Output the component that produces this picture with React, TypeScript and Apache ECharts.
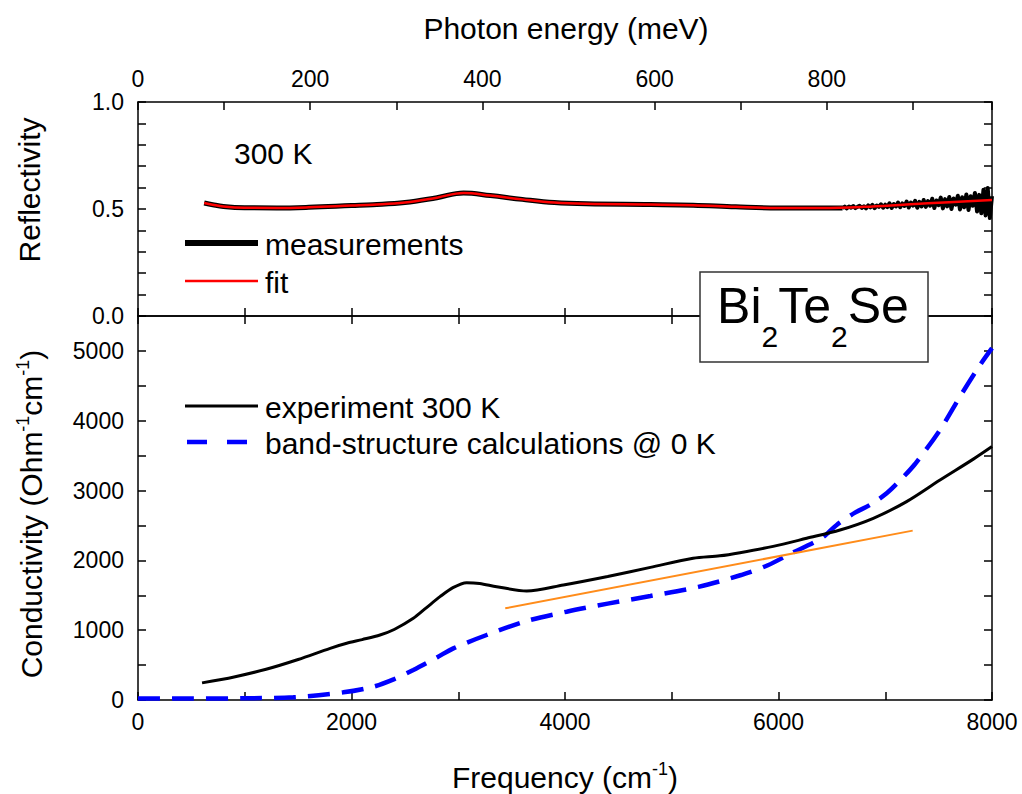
import React, { useEffect, useRef } from 'react';
import * as echarts from 'echarts';

// ---------- data ----------
const reflFitFreq = [620, 700, 800, 1000, 1300, 1600, 2000, 2200, 2500, 2800, 3050, 3300, 3600, 3900, 4200, 4800, 5200, 5600, 6000, 6400, 6800, 7200, 7600, 8000];
const reflFitValues = [0.528, 0.520, 0.512, 0.506, 0.505, 0.508, 0.516, 0.520, 0.530, 0.553, 0.575, 0.563, 0.545, 0.530, 0.524, 0.521, 0.518, 0.510, 0.505, 0.505, 0.510, 0.521, 0.532, 0.542];

// smooth part of the measured reflectivity
const reflMeasFreq = [620, 700, 800, 1000, 1300, 1600, 2000, 2200, 2500, 2800, 3050, 3300, 3600, 3900, 4200, 4800, 5200, 5600, 6000, 6400, 6600];
const reflMeasValues = [0.528, 0.520, 0.512, 0.506, 0.505, 0.508, 0.516, 0.520, 0.530, 0.553, 0.575, 0.563, 0.545, 0.530, 0.524, 0.521, 0.518, 0.510, 0.505, 0.505, 0.505];
// noisy high-frequency part of the measured reflectivity
const reflNoiseFreq = [6600, 6620, 6640, 6660, 6680, 6700, 6720, 6740, 6760, 6780, 6800, 6820, 6840, 6860, 6880, 6900, 6920, 6940, 6960, 6980,
  7000, 7020, 7040, 7060, 7080, 7100, 7120, 7140, 7160, 7180, 7200, 7220, 7240, 7260, 7280, 7300, 7320, 7340, 7360, 7380,
  7400, 7420, 7440, 7460, 7480, 7500, 7520, 7540, 7560, 7580, 7600, 7620, 7640, 7660, 7680, 7700, 7720, 7740, 7760, 7780,
  7800, 7820, 7840, 7860, 7880, 7900, 7920, 7940, 7960, 7980, 8000];
const reflNoiseValues = [0.505, 0.511, 0.503, 0.512, 0.506, 0.514, 0.504, 0.510, 0.515, 0.505, 0.513, 0.503, 0.517, 0.508, 0.519, 0.504, 0.516, 0.510, 0.522, 0.506,
  0.520, 0.509, 0.527, 0.505, 0.523, 0.512, 0.530, 0.508, 0.526, 0.514, 0.535, 0.507, 0.530, 0.516, 0.538, 0.506, 0.533, 0.512, 0.542, 0.510,
  0.537, 0.515, 0.548, 0.505, 0.540, 0.518, 0.553, 0.503, 0.546, 0.512, 0.556, 0.500, 0.549, 0.520, 0.562, 0.498, 0.555, 0.508, 0.568, 0.495,
  0.560, 0.515, 0.575, 0.488, 0.566, 0.480, 0.590, 0.470, 0.598, 0.458, 0.560];

const expFreq = [600, 900, 1200, 1500, 1800, 1955, 2100, 2267, 2400, 2579, 2700, 2829, 2950, 3079, 3200, 3360, 3641, 3985, 4400, 4800, 5200, 5450, 5639, 5950, 6264, 6576, 6888, 7200, 7513, 7825, 8000];
const expValues = [245, 330, 440, 580, 740, 812, 865, 931, 1010, 1170, 1320, 1480, 1610, 1681, 1670, 1623, 1561, 1648, 1770, 1900, 2030, 2065, 2110, 2200, 2316, 2435, 2603, 2841, 3150, 3450, 3630];

const calcFreq = [0, 500, 1000, 1455, 1924, 2205, 2400, 2579, 2800, 2954, 3266, 3641, 4016, 4400, 4800, 5250, 5650, 5900, 6108, 6404, 6545, 6717, 6857, 7013, 7154, 7279, 7513, 7700, 7888, 8000];
const calcValues = [20, 20, 25, 38, 110, 191, 300, 430, 610, 740, 931, 1132, 1265, 1380, 1490, 1620, 1790, 1930, 2092, 2318, 2507, 2684, 2794, 2961, 3170, 3380, 3868, 4345, 4799, 5040];

const trendFreq = [3440, 7257];
const trendValues = [1313, 2426];

const freqLabels = [0, 2000, 4000, 6000, 8000];
const energyLabels = [0, 200, 400, 600, 800];
const reflLabels = [0, 0.5, 1.0];
const condLabels = [0, 1000, 2000, 3000, 4000, 5000];

const CM_TO_MEV = 0.123984;
const FREQ_MAX = 8000;
const MEV_MAX = FREQ_MAX * CM_TO_MEV;

// ---------- styling ----------
const FONT = "'Liberation Sans', Arial, Helvetica, sans-serif";
const pairs = (xs: number[], ys: number[]) => xs.map((x, i) => [x, ys[i]]);
const has = (list: number[], v: number) => list.some((l) => Math.abs(l - v) < 1e-6);

const axisLine = { show: true, onZero: false, lineStyle: { color: '#000', width: 1.5 } };
const axisTick = { show: true, inside: true, length: 8, lineStyle: { color: '#000', width: 1.5 } };
const labelBase = { color: '#000', fontSize: 23, fontFamily: FONT };
const noSplit = { show: false };
const supRich = {
  a: { fontSize: 30, fontFamily: FONT, lineHeight: 34, fill: '#000' },
  s: { fontSize: 18, fontFamily: FONT, lineHeight: 22, verticalAlign: 'top', fill: '#000' },
};

export default function App() {
  const ref = useRef<HTMLDivElement>(null);
  useEffect(() => {
    const chart = echarts.init(ref.current!, null, { renderer: 'svg' });
    const option: any = {
      animation: false,
      backgroundColor: '#fff',
      grid: [
        { left: 138, right: 30, top: 102, height: 214 },
        { left: 138, right: 30, top: 316, height: 384 },
      ],
      xAxis: [
        { gridIndex: 0, type: 'value', position: 'bottom', min: 0, max: FREQ_MAX, interval: 1000, axisLine, axisTick, axisLabel: { show: false }, splitLine: noSplit },
        {
          gridIndex: 0, type: 'value', position: 'top', min: 0, max: MEV_MAX, interval: 100, axisLine, axisTick,
          axisLabel: { ...labelBase, margin: 12, formatter: (v: number) => (has(energyLabels, v) ? String(Math.round(v)) : '') },
          splitLine: noSplit,
        },
        {
          gridIndex: 1, type: 'value', position: 'bottom', min: 0, max: FREQ_MAX, interval: 1000, axisLine, axisTick,
          axisLabel: { ...labelBase, margin: 10, formatter: (v: number) => (has(freqLabels, v) ? String(Math.round(v)) : '') },
          splitLine: noSplit,
        },
        { gridIndex: 1, type: 'value', position: 'top', min: 0, max: FREQ_MAX, interval: 1000, axisLine, axisTick, axisLabel: { show: false }, splitLine: noSplit },
      ],
      yAxis: [
        {
          gridIndex: 0, type: 'value', position: 'left', min: 0, max: 1, interval: 0.1, axisLine, axisTick,
          axisLabel: { ...labelBase, margin: 14, formatter: (v: number) => (has(reflLabels, v) ? v.toFixed(1) : '') },
          splitLine: noSplit,
        },
        { gridIndex: 0, type: 'value', position: 'right', min: 0, max: 1, interval: 0.1, axisLine, axisTick, axisLabel: { show: false }, splitLine: noSplit },
        {
          gridIndex: 1, type: 'value', position: 'left', min: 0, max: 5500, interval: 500, axisLine, axisTick,
          axisLabel: { ...labelBase, margin: 14, formatter: (v: number) => (has(condLabels, v) ? String(Math.round(v)) : '') },
          splitLine: noSplit,
        },
        { gridIndex: 1, type: 'value', position: 'right', min: 0, max: 5500, interval: 500, axisLine, axisTick, axisLabel: { show: false }, splitLine: noSplit },
      ],
      series: [
        {
          name: 'measurements', type: 'line', xAxisIndex: 0, yAxisIndex: 0, data: pairs(reflMeasFreq, reflMeasValues),
          symbol: 'none', smooth: 0.4, lineStyle: { color: '#000', width: 5 }, z: 2,
        },
        {
          name: 'measurements', type: 'line', xAxisIndex: 0, yAxisIndex: 0, data: pairs(reflNoiseFreq, reflNoiseValues),
          symbol: 'none', smooth: false, lineStyle: { color: '#000', width: 4, join: 'round' }, z: 2,
        },
        {
          name: 'fit', type: 'line', xAxisIndex: 0, yAxisIndex: 0, data: pairs(reflFitFreq, reflFitValues),
          symbol: 'none', smooth: 0.4, lineStyle: { color: '#ff0000', width: 2.5 }, z: 3,
        },
        {
          name: 'experiment 300 K', type: 'line', xAxisIndex: 2, yAxisIndex: 2, data: pairs(expFreq, expValues),
          symbol: 'none', smooth: 0.3, lineStyle: { color: '#000', width: 3 }, z: 3,
        },
        {
          name: 'band-structure calculations @ 0 K', type: 'line', xAxisIndex: 2, yAxisIndex: 2, data: pairs(calcFreq, calcValues),
          symbol: 'none', smooth: 0.3, lineStyle: { color: '#0000ff', width: 4.5, type: [22, 12] }, z: 2,
        },
        {
          name: 'trend', type: 'line', xAxisIndex: 2, yAxisIndex: 2, data: pairs(trendFreq, trendValues),
          symbol: 'none', lineStyle: { color: '#ff8c1a', width: 2 }, z: 4,
        },
      ],
      graphic: [
        { type: 'text', x: 566, y: 28, style: { text: 'Photon energy (meV)', fontSize: 30, fontFamily: FONT, fill: '#000', align: 'center', verticalAlign: 'middle' } },
        { type: 'text', x: 565, y: 777, style: { text: '{a|Frequency (cm}{s|-1}{a|)}', align: 'center', verticalAlign: 'middle', fill: '#000', rich: supRich } },
        { type: 'text', x: 29, y: 190, rotation: Math.PI / 2, style: { text: 'Reflectivity', fontSize: 30, fontFamily: FONT, fill: '#000', align: 'center', verticalAlign: 'middle' } },
        { type: 'text', x: 31, y: 514, rotation: Math.PI / 2, style: { text: '{a|Conductivity (Ohm}{s|-1}{a|cm}{s|-1}{a|)}', align: 'center', verticalAlign: 'middle', fill: '#000', rich: supRich } },
        { type: 'text', x: 234, y: 153, style: { text: '300 K', fontSize: 30, fontFamily: FONT, fill: '#000', align: 'left', verticalAlign: 'middle' } },
        // top legend
        { type: 'line', shape: { x1: 185, y1: 243, x2: 258, y2: 243 }, style: { stroke: '#000', lineWidth: 6 } },
        { type: 'text', x: 265, y: 244, style: { text: 'measurements', fontSize: 30, fontFamily: FONT, fill: '#000', align: 'left', verticalAlign: 'middle' } },
        { type: 'line', shape: { x1: 185, y1: 281, x2: 258, y2: 281 }, style: { stroke: '#ff0000', lineWidth: 2.5 } },
        { type: 'text', x: 265, y: 282, style: { text: 'fit', fontSize: 30, fontFamily: FONT, fill: '#000', align: 'left', verticalAlign: 'middle' } },
        // bottom legend
        { type: 'line', shape: { x1: 185, y1: 406, x2: 258, y2: 406 }, style: { stroke: '#000', lineWidth: 3 } },
        { type: 'text', x: 265, y: 407, style: { text: 'experiment 300 K', fontSize: 30, fontFamily: FONT, fill: '#000', align: 'left', verticalAlign: 'middle' } },
        { type: 'line', shape: { x1: 187, y1: 442, x2: 250, y2: 442 }, style: { stroke: '#0000ff', lineWidth: 4.5, lineDash: [20, 20] } },
        { type: 'text', x: 265, y: 443, style: { text: 'band-structure calculations @ 0 K', fontSize: 30, fontFamily: FONT, fill: '#000', align: 'left', verticalAlign: 'middle' } },
        // compound box
        { type: 'rect', z: 50, shape: { x: 700, y: 272, width: 228, height: 90 }, style: { fill: '#fff', stroke: '#333', lineWidth: 1.5 } },
        {
          type: 'text', z: 51, x: 813, y: 306,
          style: {
            text: '{a|Bi}{s|2}{a|Te}{s|2}{a|Se}', align: 'center', verticalAlign: 'middle', fill: '#000',
            rich: {
              a: { fontSize: 50, fontFamily: FONT, lineHeight: 90, fill: '#000' },
              s: { fontSize: 30, fontFamily: FONT, lineHeight: 40, verticalAlign: 'bottom', fill: '#000' },
            },
          },
        },
      ],
    };
    chart.setOption(option);
    return () => chart.dispose();
  }, []);
  return <div ref={ref} style={{ position: 'absolute', left: 0, top: 0, width: 1022, height: 794, background: '#fff' }} />;
}
